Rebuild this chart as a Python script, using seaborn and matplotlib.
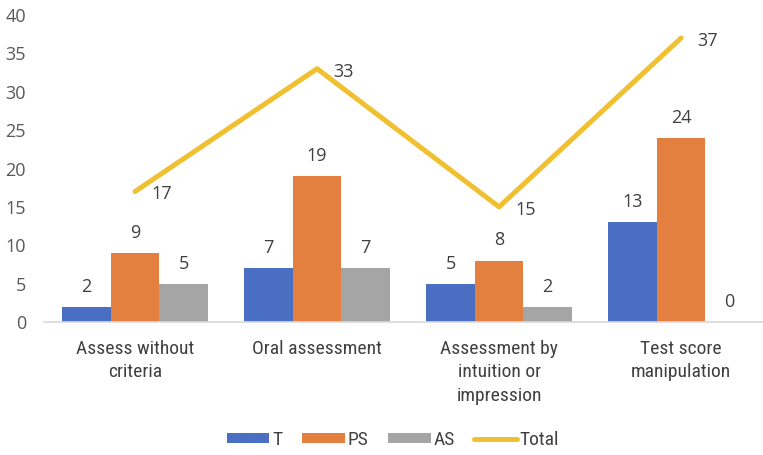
import matplotlib
matplotlib.use("Agg")
import matplotlib.pyplot as plt
from matplotlib.patches import Patch
from matplotlib.lines import Line2D
from matplotlib import font_manager
import seaborn as sns
import pandas as pd

categories = ["Assess without\ncriteria", "Oral assessment",
              "Assessment by\nintuition or\nimpression", "Test score\nmanipulation"]
series_names = ["T", "PS", "AS"]
t_values = [2, 7, 5, 13]
ps_values = [9, 19, 8, 24]
as_values = [5, 7, 2, 0]
total_values = [17, 33, 15, 37]
y_ticks = [0, 5, 10, 15, 20, 25, 30, 35, 40]

colors = {"T": "#4A6FC2", "PS": "#E3803F", "AS": "#A5A5A5"}
total_color = "#F0C030"
text_color = "#404040"

sns.set_theme(style="white")
plt.rcParams["font.family"] = ["Open Sans", "DejaVu Sans"]

# Pick a narrow face for the category and legend text
fonts = font_manager.fontManager.ttflist
names = {f.name for f in fonts}
narrow_kw = {"family": ["Open Sans", "DejaVu Sans"], "size": 12}
for cand in ["Liberation Sans Narrow", "Roboto Condensed", "Open Sans Condensed"]:
    if cand in names:
        narrow_kw = {"family": [cand, "DejaVu Sans"], "size": 14}
        break
else:
    if any(f.name == "DejaVu Sans" and f.stretch == "condensed" for f in fonts):
        narrow_kw = {"family": ["DejaVu Sans"], "stretch": "condensed", "size": 13}

long = pd.DataFrame({
    "category": categories * 3,
    "series": [s for s in series_names for _ in categories],
    "value": t_values + ps_values + as_values,
})

fig = plt.figure(figsize=(7.63, 4.55), dpi=100)
ax = fig.add_axes([44 / 763, (455 - 322) / 455, 1 - 44 / 763, (322 - 15) / 455])

sns.barplot(data=long, x="category", y="value", hue="series",
            hue_order=series_names, palette=colors, order=categories,
            width=0.8, saturation=1, ax=ax, legend=False, errorbar=None,
            linewidth=0, edgecolor="none")

for container in ax.containers:
    ax.bar_label(container, fmt="%d", padding=8, fontsize=13, color=text_color)

sns.lineplot(x=categories, y=total_values, sort=False, color=total_color,
             linewidth=3.6, ax=ax, legend=False)
for i, v in enumerate(total_values):
    ax.annotate(str(v), (i, v), xytext=(11.5, -2), textcoords="offset points",
                ha="left", va="center", fontsize=13, color=text_color)

ax.set_xlim(-0.5, 3.45)
ax.set_ylim(0, 40)
ax.set_yticks(y_ticks)
ax.set_xlabel("")
ax.set_ylabel("")
ax.tick_params(axis="y", length=0, pad=13, labelsize=13, labelcolor="#595959")
ax.tick_params(axis="x", length=0, pad=13, labelcolor=text_color)
for lab in ax.get_xticklabels():
    lab.set_linespacing(1.38)
    lab.set_fontproperties(font_manager.FontProperties(**narrow_kw))
for side in ["top", "right", "left"]:
    ax.spines[side].set_visible(False)
ax.spines["bottom"].set_color("#D9D9D9")
ax.spines["bottom"].set_linewidth(1.2)

handles = [Patch(facecolor=colors[s], edgecolor="none", label=s) for s in series_names]
handles.append(Line2D([0], [0], color=total_color, linewidth=3.6, label="Total"))
leg = fig.legend(handles=handles, loc="center", bbox_to_anchor=(0.515, 0.033), ncol=4,
                 frameon=False, prop=font_manager.FontProperties(**narrow_kw),
                 handlelength=2.2, handleheight=0.45,
                 handletextpad=0.15, columnspacing=1.0, labelcolor=text_color)

fig.savefig("out.png", dpi=100)
